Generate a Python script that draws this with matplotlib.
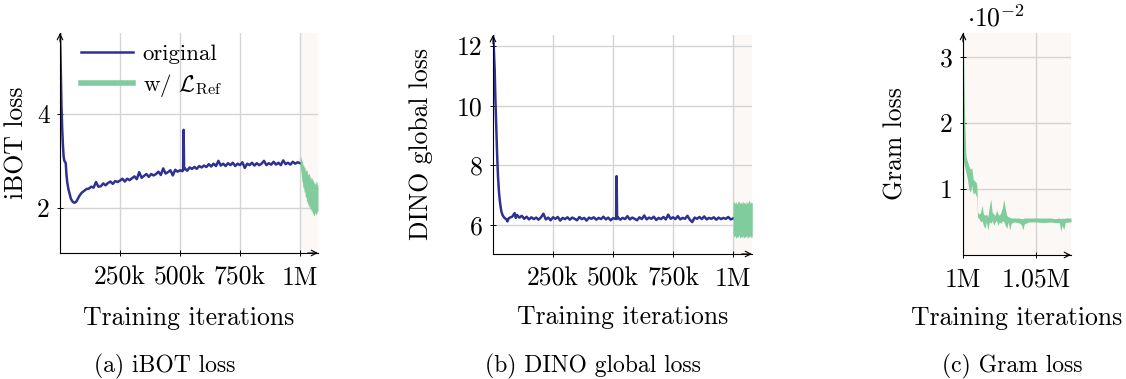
import matplotlib
matplotlib.use("Agg")
import matplotlib.pyplot as plt

plt.rcParams['font.family'] = ['cmr10', 'DejaVu Serif']
plt.rcParams['mathtext.fontset'] = 'cm'
plt.rcParams['axes.formatter.use_mathtext'] = True
plt.rcParams['axes.unicode_minus'] = False

# ---------------- data (iterations in thousands) ----------------
ibot_x = ([0, 3, 6, 9, 12, 15, 18, 21, 24, 27, 30, 35, 40, 45, 50, 55, 60, 65, 70, 75, 80, 90]
          + list(range(100, 511, 10)) + [513, 515, 517] + list(range(520, 1001, 10)))
ibot_y = [5.75, 5.0, 4.2, 3.7, 3.35, 3.1, 3.0, 2.98, 2.95, 2.7, 2.55, 2.4, 2.3, 2.2, 2.15, 2.12,
          2.11, 2.12, 2.15, 2.2, 2.25, 2.32,
          2.36, 2.40, 2.41, 2.45, 2.43, 2.55, 2.45, 2.46, 2.52, 2.48,
          2.53, 2.56, 2.51, 2.57, 2.55, 2.58, 2.62, 2.56, 2.62, 2.59,
          2.63, 2.67, 2.61, 2.76, 2.64, 2.68, 2.72, 2.66, 2.72, 2.69,
          2.72, 2.77, 2.70, 2.84, 2.73, 2.76, 2.80, 2.69, 2.81, 2.77,
          2.80, 2.78,
          2.81, 3.66, 2.82,
          2.84, 2.79, 2.86, 2.83, 2.87, 2.83, 2.89, 2.86,
          2.90, 2.87, 2.93, 2.88, 2.94, 2.89, 3.00, 2.90, 2.94, 2.89,
          2.95, 2.91, 2.96, 2.89, 2.94, 2.91, 2.97, 2.85, 2.94, 2.91,
          2.96, 2.90, 2.95, 2.91, 2.94, 3.00, 2.91, 2.95, 2.92, 2.98,
          2.92, 2.96, 2.91, 3.01, 2.93, 2.96, 2.92, 2.98, 2.94, 2.97,
          2.95]
ibot_ref_x = [1000, 1002.5, 1005, 1007.5, 1010, 1012.5, 1015, 1017.5, 1020, 1022.5, 1025, 1027.5,
              1030, 1032.5, 1035, 1037.5, 1040, 1042.5, 1045, 1047.5, 1050, 1052.5, 1055, 1057.5,
              1060, 1062.5, 1065, 1067.5, 1070, 1072.5, 1075]
ibot_ref_lo = [2.90, 2.80, 2.72, 2.58, 2.55, 2.42, 2.45, 2.33, 2.35, 2.22, 2.25, 2.12, 2.15, 2.05,
               2.10, 2.00, 2.05, 1.95, 2.00, 1.92, 1.95, 1.86, 1.90, 1.82, 1.85, 1.90, 1.88, 1.84,
               1.90, 1.93, 1.92]
ibot_ref_hi = [3.00, 3.10, 3.05, 2.98, 3.00, 2.90, 2.92, 2.85, 2.88, 2.78, 2.80, 2.82, 2.78, 2.70,
               2.72, 2.74, 2.70, 2.62, 2.66, 2.60, 2.65, 2.58, 2.60, 2.52, 2.55, 2.50, 2.52, 2.58,
               2.55, 2.48, 2.50]

dino_x = ([0, 3, 7, 10, 14, 17, 21, 25, 28, 32, 35, 40, 45, 49, 55, 60, 65, 70, 80, 90, 95, 100]
          + list(range(110, 511, 10)) + [513, 515, 517] + list(range(520, 1001, 10)))
dino_y = [12.4, 12.0, 11.2, 10.2, 9.2, 8.4, 7.6, 7.1, 6.84, 6.6, 6.45, 6.33, 6.27, 6.23, 6.20,
          6.12, 6.22, 6.25, 6.28, 6.40, 6.24, 6.34,
          6.25, 6.31, 6.21, 6.28, 6.19, 6.26, 6.20, 6.25, 6.18, 6.26,
          6.38, 6.19, 6.25, 6.16, 6.26, 6.21, 6.27, 6.15, 6.24, 6.20,
          6.26, 6.18, 6.25, 6.21, 6.16, 6.27, 6.20, 6.24, 6.15, 6.25,
          6.21, 6.26, 6.18, 6.24, 6.20, 6.28, 6.19, 6.25, 6.16, 6.23,
          6.21,
          6.20, 7.64, 6.22,
          6.26, 6.18, 6.24, 6.20, 6.30, 6.19, 6.25, 6.21, 6.16, 6.26,
          6.20, 6.32, 6.19, 6.25, 6.21, 6.28, 6.17, 6.24, 6.20, 6.27,
          6.19, 6.35, 6.21, 6.26, 6.20, 6.30, 6.19, 6.24, 6.21, 6.31,
          6.18, 6.10, 6.25, 6.21, 6.27, 6.20, 6.29, 6.19, 6.24, 6.21,
          6.26, 6.18, 6.25, 6.20, 6.24, 6.21, 6.27, 6.19, 6.22]
dino_ref_x = [1000, 1004, 1008, 1012, 1016, 1020, 1024, 1028, 1032, 1036, 1040, 1044, 1048,
              1052, 1056, 1060, 1064, 1068, 1072, 1076, 1080]
dino_ref_lo = [5.70, 5.58, 5.66, 5.55, 5.62, 5.58, 5.68, 5.56, 5.63, 5.57, 5.65, 5.55, 5.62, 5.58,
               5.66, 5.54, 5.63, 5.58, 5.66, 5.56, 5.62]
dino_ref_hi = [6.70, 6.80, 6.72, 6.78, 6.70, 6.76, 6.82, 6.72, 6.78, 6.70, 6.80, 6.74, 6.76, 6.70,
               6.80, 6.72, 6.78, 6.84, 6.72, 6.78, 6.74]

# Gram loss values in units of 1e-2
gram_x = [1000.0, 1000.5, 1001, 1002, 1003, 1004, 1005, 1006, 1007, 1008, 1009, 1009.5, 1010,
          1011, 1012, 1013, 1014, 1015, 1016, 1017, 1018, 1019, 1020, 1021, 1022, 1023, 1024,
          1025, 1026, 1027, 1028, 1029, 1030, 1031, 1032, 1033, 1035, 1038, 1040, 1041, 1042,
          1045, 1050, 1055, 1060, 1063, 1066, 1067, 1068, 1069, 1070, 1072, 1074]
gram_lo = [1.45, 1.40, 1.35, 1.25, 1.15, 1.00, 0.95, 1.05, 0.92, 0.95, 0.90, 0.85, 0.57,
           0.55, 0.50, 0.52, 0.45, 0.40, 0.50, 0.38, 0.50, 0.48, 0.52, 0.45, 0.50, 0.52, 0.45,
           0.50, 0.48, 0.52, 0.50, 0.45, 0.40, 0.50, 0.38, 0.48, 0.50, 0.49, 0.46, 0.38, 0.47,
           0.50, 0.50, 0.49, 0.50, 0.49, 0.49, 0.36, 0.45, 0.38, 0.49, 0.50, 0.50]
gram_hi = [3.40, 2.80, 2.20, 1.50, 1.42, 1.35, 1.30, 1.32, 1.15, 1.12, 1.10, 1.05, 0.65,
           0.62, 0.64, 0.75, 0.62, 0.60, 0.62, 0.58, 0.72, 0.85, 0.65, 0.62, 0.60, 0.68, 0.62,
           0.60, 0.65, 0.72, 0.84, 0.70, 0.60, 0.58, 0.57, 0.56, 0.56, 0.56, 0.55, 0.55, 0.56,
           0.56, 0.56, 0.56, 0.56, 0.55, 0.56, 0.55, 0.56, 0.55, 0.56, 0.56, 0.56]

ibot_xticks = [250, 500, 750, 1000]
ibot_xticklabels = ['250k', '500k', '750k', '1M']
gram_xticks = [1000, 1050]
gram_xticklabels = ['1M', '1.05M']

BLUE = '#2e3192'
GREEN = '#80cc9c'
SHADE = '#fcf8f5'
GRID = '#d4d4d4'
FS = 18.5

fig = plt.figure(figsize=(11.26, 3.79), dpi=100)
W, H = 1126, 379


def make_axes(l, r, t, b):
    return fig.add_axes([l / W, (H - b) / H, (r - l) / W, (b - t) / H])


def style(ax, xlim, ylim, xticks, xlabels, yticks):
    ax.set_xlim(*xlim)
    ax.set_ylim(*ylim)
    ax.set_xticks(xticks)
    ax.set_xticklabels(xlabels)
    ax.set_yticks(yticks)
    ax.set_yticklabels([str(v) for v in yticks])
    ax.grid(True, color=GRID, lw=1.0)
    ax.set_axisbelow(True)
    for s in ['top', 'right']:
        ax.spines[s].set_visible(False)
    for s in ['left', 'bottom']:
        ax.spines[s].set_linewidth(0.8)
        ax.spines[s].set_zorder(5)
    ax.tick_params(direction='inout', length=5, width=0.7, labelsize=FS, pad=7)
    ax.tick_params(axis='y', pad=5)
    ax.annotate('', xy=(1.0, 0), xytext=(0.96, 0), xycoords='axes fraction',
                arrowprops=dict(arrowstyle='->', lw=0.8, color='black', shrinkA=0, shrinkB=0),
                zorder=6)
    ax.annotate('', xy=(0, 1.0), xytext=(0, 0.96), xycoords='axes fraction',
                arrowprops=dict(arrowstyle='->', lw=0.8, color='black', shrinkA=0, shrinkB=0),
                zorder=6)


# (a) iBOT loss
ax1 = make_axes(60, 318, 33, 253)
style(ax1, (0, 1075), (1.04, 5.72), ibot_xticks, ibot_xticklabels, [2, 4])
ax1.axvspan(1000, 1075, color=SHADE, zorder=0, lw=0)
ax1.plot(ibot_x, ibot_y, color=BLUE, lw=1.8, label='original', zorder=3)
ax1.fill_between(ibot_ref_x, ibot_ref_lo, ibot_ref_hi, color=GREEN, lw=0, zorder=3)
ax1.plot([], [], color=GREEN, lw=4, label=r'w/ $\mathcal{L}_{\rm Ref}$')
ax1.set_ylabel('iBOT loss', fontsize=FS)
ax1.yaxis.set_label_coords(-0.124, 0.5)
ax1.set_xlabel('Training iterations', fontsize=FS)
ax1.xaxis.label.set_verticalalignment('center')
ax1.xaxis.set_label_coords(0.5, -0.295)
ax1.legend(loc='upper left', bbox_to_anchor=(0.045, 0.99), frameon=False, fontsize=16.5,
           handlelength=2.3, handletextpad=0.4, labelspacing=0.35, borderaxespad=0)

# (b) DINO global loss
ax2 = make_axes(493, 752, 35, 254)
style(ax2, (0, 1079), (5.03, 12.37), ibot_xticks, ibot_xticklabels, [6, 8, 10, 12])
ax2.axvspan(1000, 1079, color=SHADE, zorder=0, lw=0)
ax2.plot(dino_x, dino_y, color=BLUE, lw=1.8, zorder=3)
ax2.fill_between(dino_ref_x, dino_ref_lo, dino_ref_hi, color=GREEN, lw=0, zorder=3)
ax2.set_ylabel('DINO global loss', fontsize=FS)
ax2.yaxis.set_label_coords(-0.232, 0.5)
ax2.set_xlabel('Training iterations', fontsize=FS)
ax2.xaxis.label.set_verticalalignment('center')
ax2.xaxis.set_label_coords(0.5, -0.29)

# (c) Gram loss
ax3 = make_axes(963, 1071, 33, 255)
style(ax3, (1000, 1074), (0, 3.36), gram_xticks, gram_xticklabels, [1, 2, 3])
ax3.set_facecolor(SHADE)
ax3.fill_between(gram_x, gram_lo, gram_hi, color=GREEN, lw=0, zorder=3)
ax3.set_ylabel('Gram loss', fontsize=FS)
ax3.yaxis.set_label_coords(-0.51, 0.5)
ax3.set_xlabel('Training iterations', fontsize=FS)
ax3.xaxis.label.set_verticalalignment('center')
ax3.xaxis.set_label_coords(0.5, -0.285)
ax3.text(0.04, 1.065, r'$\cdot 10^{-2}$', transform=ax3.transAxes, fontsize=FS,
         ha='left', va='center')

# captions
fig.text(165 / W, (H - 366) / H, '(a) iBOT loss', ha='center', va='center', fontsize=17)
fig.text(593 / W, (H - 366) / H, '(b) DINO global loss', ha='center', va='center', fontsize=17)
fig.text(1012 / W, (H - 366) / H, '(c) Gram loss', ha='center', va='center', fontsize=17)

fig.savefig('out.png', dpi=100)
